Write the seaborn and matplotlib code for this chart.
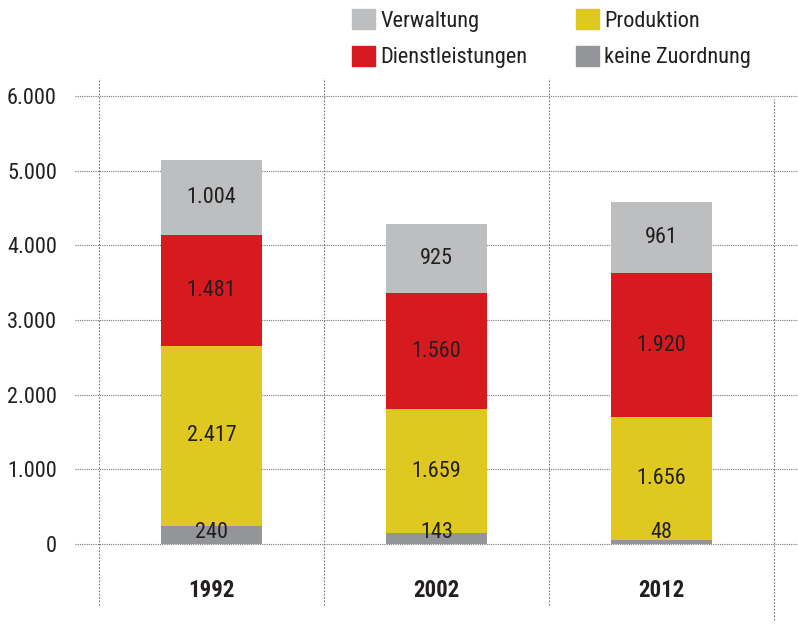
import matplotlib
matplotlib.use("Agg")
import matplotlib.pyplot as plt
import matplotlib.patches as mpatches
import seaborn as sns
import numpy as np
import pandas as pd

# Daten
jahre = ["1992", "2002", "2012"]
keine_zuordnung = [240, 143, 48]
produktion = [2417, 1659, 1656]
dienstleistungen = [1481, 1560, 1920]
verwaltung = [1004, 925, 961]

serien = ["keine Zuordnung", "Produktion", "Dienstleistungen", "Verwaltung"]
farben = ["#939598", "#dfc820", "#d71920", "#bdbec0"]
werte = [keine_zuordnung, produktion, dienstleistungen, verwaltung]
yticks = [0, 1000, 2000, 3000, 4000, 5000, 6000]

sns.set_style("white")
plt.rcParams["font.family"] = ["Roboto Condensed", "DejaVu Sans"]
textfarbe = "#231f20"
gr = 16

fig = plt.figure(figsize=(7.98, 6.24), dpi=100)
ax = fig.add_axes([75 / 798, 0, 723 / 798, 554 / 624])

# gestapelte Balken: von oben nach unten ueberlagern
kumuliert = np.cumsum(np.array(werte), axis=0)
for i in range(len(serien) - 1, -1, -1):
    df = pd.DataFrame({"jahr": jahre, "wert": kumuliert[i]})
    sns.barplot(data=df, x="jahr", y="wert", color=farben[i], width=0.45,
                saturation=1, ax=ax, zorder=3, linewidth=0)

# Werte in den Segmenten
def fmt(v):
    return f"{v:,}".replace(",", ".")

for j in range(len(jahre)):
    ax.text(j, 160, fmt(keine_zuordnung[j]), ha="center", va="center",
            fontsize=gr, color=textfarbe, zorder=5)
    for i in range(1, len(serien)):
        unten = kumuliert[i - 1][j]
        mitte = unten + werte[i][j] / 2
        ax.text(j, mitte, fmt(werte[i][j]), ha="center", va="center",
                fontsize=gr, color=textfarbe, zorder=5)
    ax.text(j, -620, jahre[j], ha="center", va="center", fontsize=gr + 0.5,
            fontweight="bold", color=textfarbe)

# Gitterlinien
for y in yticks:
    ax.axhline(y, color="#777777", lw=0.8, ls=(0, (1, 1)), zorder=1)
for x in [-0.5, 0.5, 1.5]:
    ax.plot([x, x], [-817, 6241], color="#777777", lw=0.8, ls=(0, (1.5, 1.5)), zorder=1)
ax.plot([2.5, 2.5], [-1018, 5960], color="#777777", lw=0.8, ls=(0, (1.5, 1.5)), zorder=1)

ax.set_xlim(-0.607, 2.607)
ax.set_ylim(-1071, 6348)
ax.set_yticks(yticks)
ax.set_yticklabels([fmt(v) for v in yticks], fontsize=gr, color=textfarbe)
ax.tick_params(axis="y", length=0, pad=13)
ax.set_xticks([])
ax.set_xlabel("")
ax.set_ylabel("")
for s in ax.spines.values():
    s.set_visible(False)

# Legende
reihenfolge = [3, 2, 1, 0]
handles = [mpatches.Patch(color=farben[i], label=serien[i]) for i in reihenfolge]
fig.legend(handles=handles, ncol=2, loc="upper left",
           bbox_to_anchor=(352 / 798, 1 - 9 / 624), frameon=False,
           fontsize=gr, handlelength=1.04, handleheight=1.04,
           handletextpad=0.23, columnspacing=2.2, labelspacing=0.62,
           borderpad=0, borderaxespad=0, labelcolor=textfarbe)

fig.savefig("out.png", dpi=100)
